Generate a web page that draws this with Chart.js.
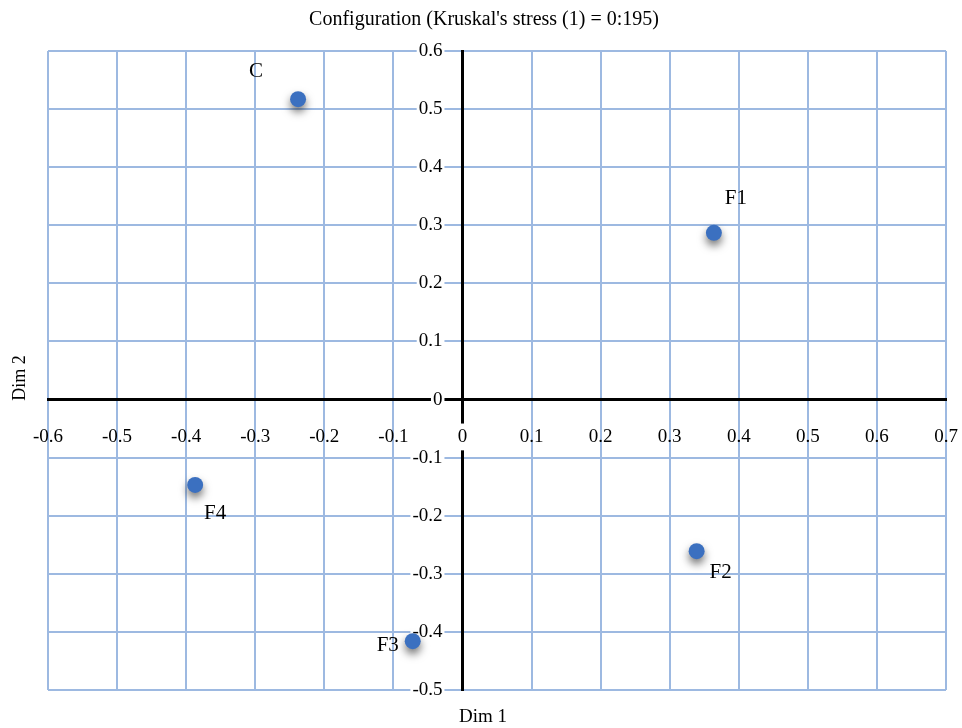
<!DOCTYPE html>
<html>
<head>
<meta charset="utf-8">
<script src="https://cdn.jsdelivr.net/npm/chart.js@4/dist/chart.umd.min.js"></script>
<style>
  html, body { margin: 0; padding: 0; background: #ffffff; }
  #wrap { width: 962px; height: 728px; }
</style>
</head>
<body>
<div id="wrap"><canvas id="c" width="962" height="728"></canvas></div>
<script>
// ---- data ----
const pointNames = ['C', 'F1', 'F2', 'F3', 'F4'];
const dim1Values = [-0.238, 0.364, 0.339, -0.072, -0.387];
const dim2Values = [0.517, 0.287, -0.261, -0.416, -0.147];
const xTickValues = [-0.6, -0.5, -0.4, -0.3, -0.2, -0.1, 0, 0.1, 0.2, 0.3, 0.4, 0.5, 0.6, 0.7];
const xTickLabels = ['-0.6', '-0.5', '-0.4', '-0.3', '-0.2', '-0.1', '0', '0.1', '0.2', '0.3', '0.4', '0.5', '0.6', '0.7'];
const yTickValues = [-0.5, -0.4, -0.3, -0.2, -0.1, 0, 0.1, 0.2, 0.3, 0.4, 0.5, 0.6];
const yTickLabels = ['-0.5', '-0.4', '-0.3', '-0.2', '-0.1', '0', '0.1', '0.2', '0.3', '0.4', '0.5', '0.6'];
const chartTitle = "Configuration (Kruskal's stress (1) = 0:195)";
const xTitle = 'Dim 1';
const yTitle = 'Dim 2';

// ---- label placement (pixels relative to point) ----
const labelOffsets = [[-42, -28], [22, -34], [24, 21], [-25, 4], [20, 29]];

const SERIF = "'Liberation Serif', 'Times New Roman', serif";
const GRID = '#9DB9E1';
const POINT = '#3B70C0';
const TICK_FONT = 19;

const points = dim1Values.map((x, i) => ({ x: x, y: dim2Values[i] }));

const textPlugin = {
  id: 'texts',
  beforeDatasetsDraw(chart) {
    const ctx = chart.ctx;
    const ys = chart.scales.y;
    const xs = chart.scales.x;
    const x0 = xs.getPixelForValue(0);
    // y tick labels beside the zero line
    ctx.save();
    ctx.font = TICK_FONT + 'px ' + SERIF;
    ctx.textAlign = 'right';
    ctx.textBaseline = 'middle';
    ys.ticks.forEach((t, i) => {
      const py = ys.getPixelForValue(t.value);
      const label = yTickLabels[i];
      const w = ctx.measureText(label).width;
      const right = x0 - 20;
      ctx.fillStyle = '#ffffff';
      ctx.fillRect(right - w - 2, py - TICK_FONT * 0.6, w + 4, TICK_FONT * 1.2);
      ctx.fillStyle = '#000000';
      ctx.fillText(label, right, py);
    });
    ctx.restore();

    ctx.save();
    ctx.shadowColor = 'rgba(0,0,0,0.55)';
    ctx.shadowBlur = 8;
    ctx.shadowOffsetX = 0;
    ctx.shadowOffsetY = 5;
  },
  afterDatasetsDraw(chart) {
    const ctx = chart.ctx;
    ctx.restore();
    // point labels
    const meta = chart.getDatasetMeta(0);
    ctx.save();
    ctx.fillStyle = '#000';
    ctx.font = '21px ' + SERIF;
    ctx.textAlign = 'center';
    ctx.textBaseline = 'middle';
    meta.data.forEach((el, i) => {
      const o = labelOffsets[i];
      ctx.fillText(pointNames[i], el.x + o[0], el.y + o[1]);
    });
    ctx.restore();
  },
  afterDraw(chart) {
    const ctx = chart.ctx;
    ctx.save();
    ctx.fillStyle = '#000';
    ctx.textAlign = 'center';
    ctx.textBaseline = 'middle';
    ctx.font = '20px ' + SERIF;
    ctx.fillText(chartTitle, 484, 20);
    ctx.font = '19px ' + SERIF;
    ctx.fillText(xTitle, 483, 717);
    ctx.translate(20, 378);
    ctx.rotate(-Math.PI / 2);
    ctx.font = '18px ' + SERIF;
    ctx.fillText(yTitle, 0, 0);
    ctx.restore();
  }
};

new Chart(document.getElementById('c'), {
  type: 'scatter',
  data: {
    datasets: [{
      data: points,
      backgroundColor: POINT,
      borderColor: POINT,
      borderWidth: 0,
      pointRadius: 8,
      pointHoverRadius: 8
    }]
  },
  options: {
    responsive: false,
    animation: false,
    devicePixelRatio: 1,
    layout: { padding: { left: 48, right: 16, top: 51, bottom: 38 } },
    plugins: {
      legend: { display: false },
      title: { display: false },
      tooltip: { enabled: false }
    },
    scales: {
      x: {
        type: 'linear',
        position: { y: 0 },
        min: -0.6,
        max: 0.7,
        afterBuildTicks: s => { s.ticks = xTickValues.map(v => ({ value: v })); },
        afterFit: s => { s.height = 0; },
        grid: {
          color: c => (c.tick && c.tick.value === 0) ? 'rgba(0,0,0,0)' : GRID,
          lineWidth: 2,
          drawTicks: true,
          tickLength: 24,
          tickColor: 'rgba(0,0,0,0)',
          z: -2
        },
        border: { display: true, color: '#000', width: 3, z: -1 },
        ticks: {
          padding: 2,
          color: '#000',
          font: { family: SERIF, size: TICK_FONT },
          maxRotation: 0,
          autoSkip: false,
          showLabelBackdrop: true,
          backdropColor: c => (c.tick && c.tick.value === 0) ? '#ffffff' : 'rgba(255,255,255,0)',
          backdropPadding: 2,
          callback: (v, i) => xTickLabels[i]
        }
      },
      y: {
        type: 'linear',
        position: { x: 0 },
        min: -0.5,
        max: 0.6,
        afterBuildTicks: s => { s.ticks = yTickValues.map(v => ({ value: v })); },
        afterFit: s => { s.width = 0; },
        grid: {
          color: c => (c.tick && c.tick.value === 0) ? 'rgba(0,0,0,0)' : GRID,
          lineWidth: 2,
          drawTicks: false,
          z: -2
        },
        border: { display: true, color: '#000', width: 3, z: -1 },
        ticks: { display: false }
      }
    }
  },
  plugins: [textPlugin]
});
</script>
</body>
</html>
